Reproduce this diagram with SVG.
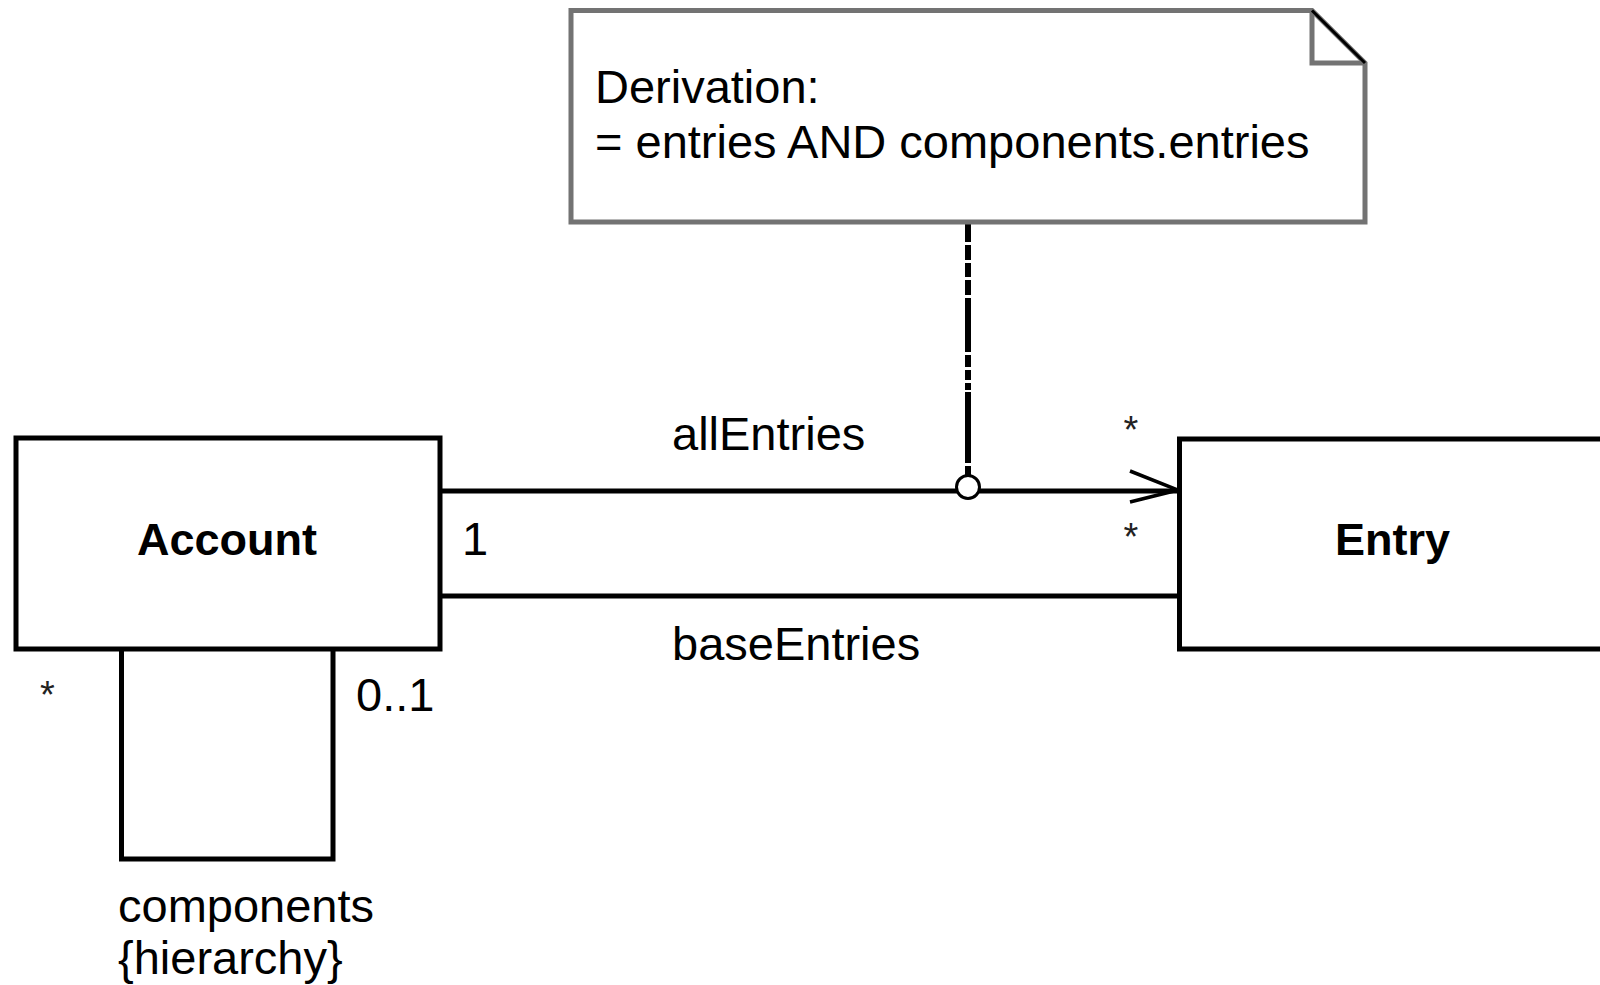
<svg xmlns="http://www.w3.org/2000/svg" width="1600" height="985" viewBox="0 0 1600 985">
<style>
  text { font-family: "Liberation Sans", Arial, sans-serif; fill: #000; }
  .lbl { font-size: 47px; }
  .star { font-size: 38px; fill: #222; }
  .cls { font-size: 45px; font-weight: bold; }
  .box { fill: #fff; stroke: #000; stroke-width: 5; }
  .line { fill: none; stroke: #000; stroke-width: 5; }
  .note { fill: #fff; stroke: #737373; stroke-width: 5; }
</style>
<rect width="1600" height="985" fill="#fff"/>
<g id="connectors">
  <line class="line" x1="440" y1="491" x2="1179" y2="491"/>
  <line class="line" x1="440" y1="596" x2="1179" y2="596"/>
  <polyline fill="none" stroke="#000" stroke-width="3.5" points="1130,471 1178,490 1130,502"/>
  <path class="line" d="M121.5,649 V859 H333 V649"/>
  <line x1="968" y1="222" x2="968" y2="476" stroke="#000" stroke-width="6" stroke-dasharray="20 3 15 3 14 3 15 3 54 3 12 3 10 3 7 2 71 3 10 0"/>
  <circle cx="968" cy="487" r="11.5" fill="#fff" stroke="#000" stroke-width="3"/>
</g>
<g id="note">
  <path class="note" d="M571,10.5 H1312 L1365,63 V222 H571 Z"/>
  <path fill="none" stroke="#737373" stroke-width="5" d="M1312,10.5 V63 H1365"/>
  <line x1="1312" y1="10.5" x2="1365" y2="63" stroke="#000" stroke-width="3"/>
  <text class="lbl" x="595" y="103">Derivation:</text>
  <text class="lbl" x="595" y="158">= entries AND components.entries</text>
</g>
<g id="account">
  <rect class="box" x="16" y="438" width="424" height="211"/>
  <text class="cls" x="227" y="555" text-anchor="middle">Account</text>
</g>
<g id="entry">
  <rect class="box" x="1179.5" y="439" width="440" height="210"/>
  <text class="cls" x="1335" y="555">Entry</text>
</g>
<g id="labels">
  <text class="lbl" x="672" y="450">allEntries</text>
  <text class="lbl" x="672" y="660">baseEntries</text>
  <text class="lbl" x="462" y="555">1</text>
  <text class="star" x="1131" y="443" text-anchor="middle">*</text>
  <text class="star" x="1131" y="550" text-anchor="middle">*</text>
  <text class="star" x="47.5" y="708" text-anchor="middle">*</text>
  <text class="lbl" x="356" y="711">0..1</text>
  <text class="lbl" x="118" y="922">components</text>
  <text class="lbl" x="118" y="974">{hierarchy}</text>
</g>
</svg>
